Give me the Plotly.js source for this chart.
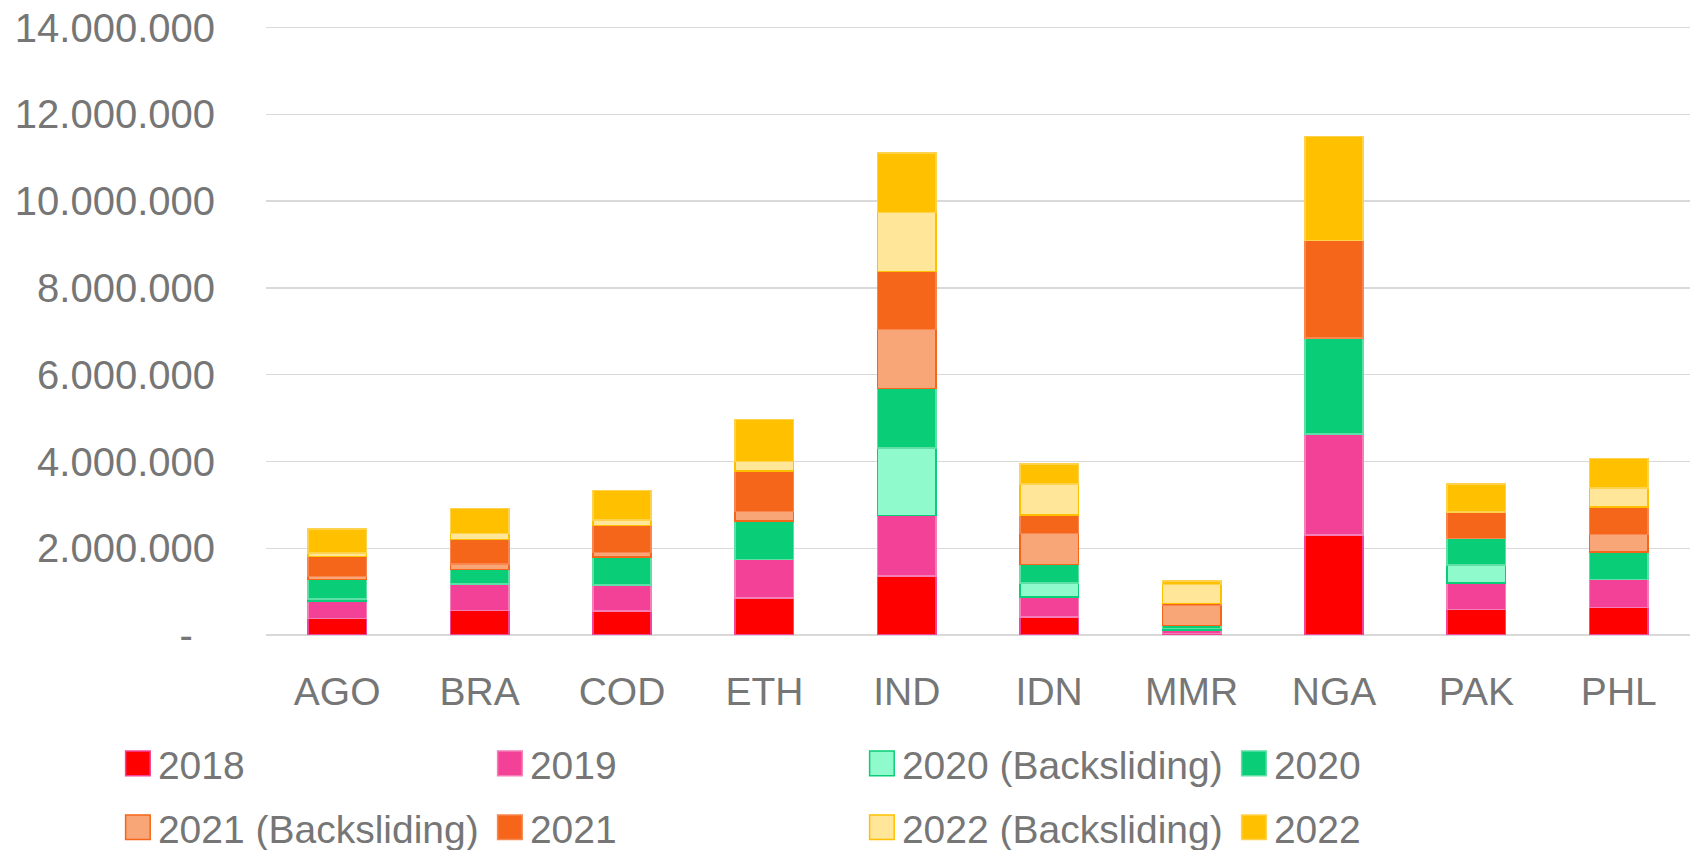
<!DOCTYPE html>
<html>
<head>
<meta charset="utf-8">
<script src="https://cdn.plot.ly/plotly-3.0.1.min.js"></script>
<style>
  html, body { margin: 0; padding: 0; background: #fff; }
  #chart { width: 1690px; height: 850px; }
</style>
</head>
<body>
<div id="chart"></div>
<script>
var countries = ['AGO', 'BRA', 'COD', 'ETH', 'IND', 'IDN', 'MMR', 'NGA', 'PAK', 'PHL'];

// values (people)
var v2018  = [378000, 570000, 550000, 853000, 1360000, 415000, 40000, 2310000, 586000, 634000];
var v2019  = [406000, 610000, 600000, 890000, 1400000, 460000, 70000, 2320000, 610000, 640000];
var v2020b = [50000, 0, 0, 0, 1550000, 320000, 40000, 0, 420000, 0];
var v2020  = [450000, 330000, 650000, 890000, 1370000, 430000, 65000, 2220000, 610000, 640000];
var v2021b = [70000, 130000, 100000, 220000, 1360000, 720000, 470000, 0, 0, 400000];
var v2021  = [460000, 560000, 620000, 930000, 1345000, 420000, 40000, 2250000, 610000, 640000];
var v2022b = [80000, 140000, 130000, 220000, 1350000, 715000, 440000, 0, 0, 440000];
var v2022  = [555000, 580000, 680000, 970000, 1380000, 460000, 80000, 2390000, 640000, 680000];

var yTickVals = [0, 2000000, 4000000, 6000000, 8000000, 10000000, 12000000, 14000000];
var yTickText = ['-\u00a0\u00a0', '2.000.000', '4.000.000', '6.000.000', '8.000.000', '10.000.000', '12.000.000', '14.000.000'];

var textColor = '#767676';
var fontFam = '"Liberation Sans", Arial, sans-serif';

function series(name, vals, fill, edge, leg) {
  return {
    type: 'bar',
    name: name,
    x: countries,
    y: vals.map(function (v) { return v === 0 ? null : v; }),
    marker: { color: fill, line: { color: edge, width: 1.5 } },
    legend: leg,
    hoverinfo: 'name+y'
  };
}

var data = [
  series('2018', v2018, '#FF0000', '#F2449A', 'legend'),
  series('2019', v2019, '#F24196', '#F57DB8', 'legend'),
  series('2020 (Backsliding)', v2020b, '#8FFACB', '#0ACD78', 'legend'),
  series('2020', v2020, '#0ACD78', '#5EDFA5', 'legend'),
  series('2021 (Backsliding)', v2021b, '#F8A577', '#F5661A', 'legend2'),
  series('2021', v2021, '#F5661A', '#F7874F', 'legend2'),
  series('2022 (Backsliding)', v2022b, '#FFE699', '#FFC000', 'legend2'),
  series('2022', v2022, '#FFC000', '#FFD24D', 'legend2')
];

var legendBase = {
  orientation: 'h',
  xref: 'paper', yref: 'paper',
  x: -0.104, xanchor: 'left',
  yanchor: 'middle',
  traceorder: 'normal',
  entrywidth: 327, entrywidthmode: 'pixels',
  font: { family: fontFam, size: 39, color: textColor },
  bgcolor: 'rgba(0,0,0,0)'
};

var layout = {
  width: 1690,
  height: 850,
  barmode: 'stack',
  bargap: 0.59,
  paper_bgcolor: '#ffffff',
  plot_bgcolor: '#ffffff',
  margin: { l: 266, r: 0, t: 26, b: 215, autoexpand: false },
  font: { family: fontFam, size: 39, color: textColor },
  xaxis: {
    type: 'category',
    showgrid: false,
    showline: false,
    ticks: '',
    ticklabelstandoff: 30,
    tickfont: { family: fontFam, size: 39, color: textColor }
  },
  yaxis: {
    range: [0, 14040000],
    tickvals: yTickVals,
    ticktext: yTickText,
    showgrid: true,
    gridcolor: '#D9D9D9',
    gridwidth: 1.5,
    zeroline: true,
    zerolinecolor: '#D9D9D9',
    zerolinewidth: 1.5,
    showline: false,
    ticks: '',
    ticklabelstandoff: 50,
    tickfont: { family: fontFam, size: 40, color: textColor }
  },
  legend: Object.assign({}, legendBase, { y: -0.211 }),
  legend2: Object.assign({}, legendBase, { y: -0.316 })
};

Plotly.newPlot('chart', data, layout, { displayModeBar: false, staticPlot: true }).then(function (gd) {
  // Excel-style legend swatches are about twice the default size
  gd.querySelectorAll('.legendpoints path').forEach(function (p) {
    var t = p.getAttribute('transform') || '';
    p.setAttribute('transform', t + ' scale(2.05)');
    p.setAttribute('vector-effect', 'non-scaling-stroke');
  });
});
</script>
</body>
</html>
